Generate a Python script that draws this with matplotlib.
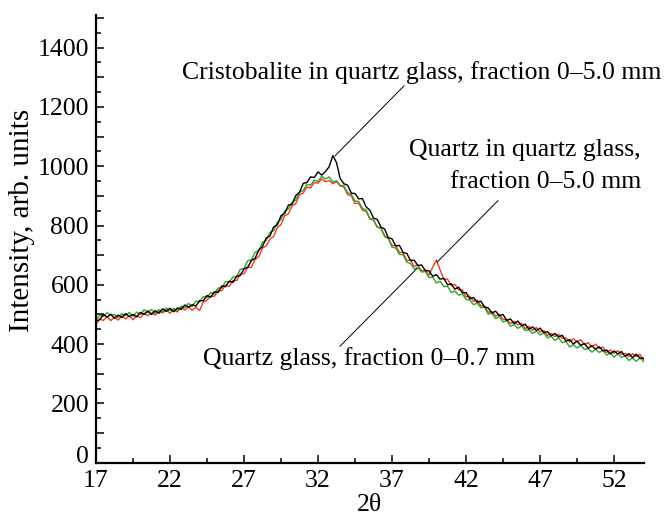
import numpy as np
import matplotlib
matplotlib.use("Agg")
import matplotlib.pyplot as plt
from matplotlib.ticker import FixedLocator, MultipleLocator, FuncFormatter

plt.rcParams['font.family'] = ['Liberation Serif', 'DejaVu Serif']

# XRD patterns, 2theta from 17 deg in 0.25 deg steps
step = 0.25
black = [478, 482, 500, 491, 501, 487, 498, 490, 503, 493, 500, 492, 507, 500, 512, 500,
         513, 504, 519, 510, 521, 509, 522, 517, 532, 524, 533, 528, 547, 546, 564, 558,
         577, 574, 596, 594, 612, 608, 629, 631, 654, 659, 682, 689, 718, 729, 758, 764,
         795, 802, 833, 841, 869, 872, 901, 912, 942, 945, 964, 962, 981, 970, 982, 998,
         1036, 1012, 958, 941, 936, 909, 908, 890, 891, 863, 852, 825, 821, 795, 788, 759,
         755, 731, 733, 709, 706, 682, 683, 665, 667, 648, 647, 629, 634, 619, 622, 600,
         603, 585, 592, 573, 574, 553, 557, 541, 545, 525, 522, 505, 511, 496, 500, 480,
         485, 469, 478, 462, 467, 450, 458, 446, 454, 439, 442, 428, 436, 424, 430, 410,
         415, 400, 410, 396, 402, 386, 395, 383, 391, 377, 380, 367, 377, 367, 375, 359,
         368, 354, 366, 353, 352]
green = [480, 497, 493, 506, 496, 500, 490, 503, 496, 507, 494, 508, 500, 516, 507, 517,
         504, 516, 509, 522, 513, 520, 513, 528, 523, 537, 527, 545, 542, 561, 557, 574,
         569, 589, 590, 611, 610, 626, 628, 652, 655, 681, 684, 710, 714, 744, 749, 777,
         782, 811, 820, 849, 856, 878, 886, 912, 918, 939, 936, 953, 949, 966, 957, 964,
         947, 951, 935, 935, 911, 905, 883, 881, 858, 853, 824, 820, 794, 790, 762, 756,
         727, 724, 703, 701, 676, 672, 653, 658, 643, 645, 624, 626, 606, 612, 594, 595,
         574, 579, 565, 569, 551, 549, 533, 538, 523, 524, 501, 504, 486, 493, 475, 479,
         460, 466, 453, 461, 446, 448, 436, 444, 431, 438, 421, 427, 412, 421, 405, 409,
         390, 398, 387, 396, 382, 385, 373, 383, 372, 379, 363, 370, 356, 368, 355, 361,
         345, 353, 342, 353, 341]
red = [465, 485, 480, 492, 479, 491, 481, 495, 485, 495, 482, 495, 489, 504, 496, 505,
       498, 512, 505, 516, 504, 517, 508, 524, 515, 526, 514, 524, 513, 542, 548, 562,
       561, 581, 580, 599, 594, 615, 614, 638, 637, 659, 659, 686, 695, 724, 731, 754,
       763, 793, 803, 833, 839, 867, 874, 904, 909, 930, 927, 945, 943, 957, 948, 952,
       941, 948, 933, 930, 904, 900, 874, 875, 852, 848, 822, 818, 795, 792, 766, 757,
       733, 732, 710, 708, 682, 683, 662, 667, 647, 651, 632, 660, 684, 650, 618, 619,
       598, 601, 583, 583, 559, 562, 544, 549, 529, 529, 507, 510, 495, 500, 483, 483,
       469, 477, 465, 470, 452, 460, 446, 456, 441, 446, 429, 436, 425, 433, 419, 421,
       408, 418, 408, 415, 398, 405, 391, 400, 385, 390, 372, 380, 369, 378, 365, 369,
       358, 368, 358, 365, 348]

x_major = [17, 22, 27, 32, 37, 42, 47, 52]
x_minor = [19.5, 24.5, 29.5, 34.5, 39.5, 44.5, 49.5]

two_theta = 17 + step * np.arange(len(black))

fig = plt.figure(figsize=(6.67, 5.16), dpi=100)
ax = fig.add_axes([0.1439, 0.1033, 0.8211, 0.8676])

ax.plot(two_theta, red, color='#f23b1e', lw=1.0)
ax.plot(two_theta, green, color='#2fa52a', lw=1.0)
ax.plot(two_theta, black, color='black', lw=1.0)

ax.set_xlim(17, 54)
ax.set_ylim(0, 1510)
for s in ['top', 'right']:
    ax.spines[s].set_visible(False)
for s in ['left', 'bottom']:
    ax.spines[s].set_linewidth(1.6)

ax.xaxis.set_major_locator(FixedLocator(x_major))
ax.xaxis.set_minor_locator(FixedLocator(x_minor))
ax.yaxis.set_major_locator(MultipleLocator(100))
ax.yaxis.set_minor_locator(MultipleLocator(50))
ax.yaxis.set_major_formatter(FuncFormatter(
    lambda v, p: '%d' % v if (int(round(v)) % 200 == 0 and v > 0) else ''))

ax.tick_params(which='major', direction='in', length=6, width=1.1, labelsize=18.5, pad=5)
ax.tick_params(which='minor', direction='in', length=3.8, width=1.1)

# "0" sits on the axis line, above the "17"
ax.annotate('0', xy=(0, 0), xycoords=('axes fraction', 'data'), xytext=(-5, 0),
            textcoords='offset points', ha='right', va='baseline', fontsize=18.5)

ax.set_xlabel('2θ', fontsize=18.5, labelpad=2)
fig.text(22 / 667, 1 - 220 / 516, 'Intensity, arb. units', rotation=90,
         ha='center', va='center', fontsize=21)

# annotations
ax.text(38.99, 1295, 'Cristobalite in quartz glass, fraction 0–5.0 mm',
        ha='center', va='baseline', fontsize=18.5)
ax.plot([37.81, 33.15], [1271, 1035], color='black', lw=0.7)

ax.text(53.82, 1033, 'Quartz in quartz glass,', ha='right', va='baseline', fontsize=18.5)
ax.text(53.82, 925, 'fraction 0–5.0 mm', ha='right', va='baseline', fontsize=18.5)
ax.plot([44.16, 40.06], [884, 677], color='black', lw=0.7)

ax.text(46.66, 329, 'Quartz glass, fraction 0–0.7 mm', ha='right', va='baseline', fontsize=18.5)
ax.plot([33.49, 38.69], [393, 655], color='black', lw=0.7)

fig.savefig('out.png', dpi=100)
